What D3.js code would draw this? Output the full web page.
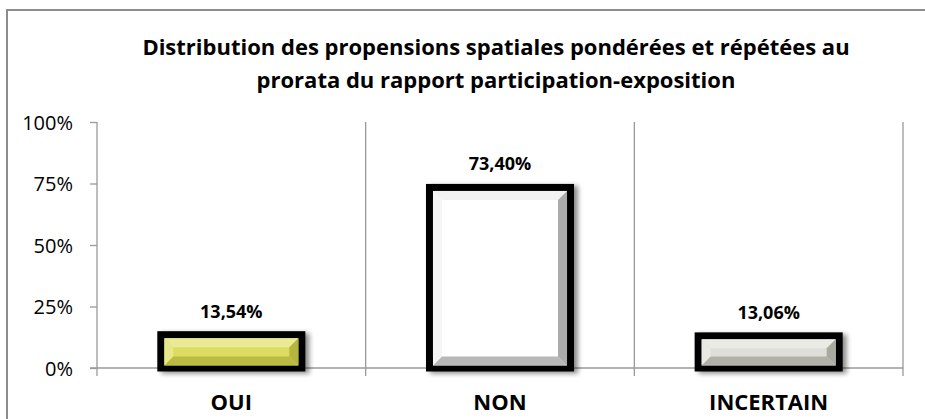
<!DOCTYPE html>
<html>
<head>
<meta charset="utf-8">
<script src="https://cdn.jsdelivr.net/npm/d3@7"></script>
<style>
  html, body { margin: 0; padding: 0; background: #fff; }
  svg { display: block; }
  text { font-family: "Open Sans", "Noto Sans", sans-serif; fill: #000; }
</style>
</head>
<body>
<svg id="chart" width="925" height="419"></svg>
<script>
// Data
const categories = ["OUI", "NON", "INCERTAIN"];
const values = [13.54, 73.40, 13.06];
const valueLabels = ["13,54%", "73,40%", "13,06%"];
const yTicks = [0, 25, 50, 75, 100];
const yTickLabels = ["0%", "25%", "50%", "75%", "100%"];
const titleLines = [
  "Distribution des propensions spatiales pondérées et répétées au",
  "prorata du rapport participation-exposition"
];

// Bar palettes: [face, light bevel, dark bevel]
const palettes = [
  ["#dcdc62", "#e9e996", "#b5b53e"],
  ["#ffffff", "#f2f2f2", "#ababab"],
  ["#dedfd8", "#ebebe5", "#a9a99f"]
];

const width = 925, height = 419;
const margin = { top: 122, right: 22, bottom: 51, left: 97 };
const svg = d3.select("#chart");

// Drop shadow for the bars
const defs = svg.append("defs");
const f = defs.append("filter").attr("id", "shadow")
  .attr("x", "-10%").attr("y", "-10%").attr("width", "130%").attr("height", "130%");
f.append("feDropShadow").attr("dx", 4).attr("dy", 2).attr("stdDeviation", 2.5)
  .attr("flood-color", "#000").attr("flood-opacity", 0.45);

// Chart frame
svg.append("rect")
  .attr("x", 7).attr("y", 10).attr("width", 940).attr("height", 430)
  .attr("fill", "none").attr("stroke", "#8c8c8c").attr("stroke-width", 2);

// Title
const title = svg.append("text")
  .attr("text-anchor", "middle")
  .attr("font-weight", "bold")
  .attr("font-size", 22);
titleLines.forEach((t, i) => {
  title.append("tspan").attr("x", 496).attr("y", 55 + i * 33).text(t);
});

const x = d3.scaleBand()
  .domain(categories)
  .range([margin.left, width - margin.right])
  .paddingInner(0.475)
  .paddingOuter(0.2375);

const y = d3.scaleLinear()
  .domain([0, 100])
  .range([height - margin.bottom, margin.top]);

const gridColor = "#9a9a9a";
const step = x.step();
const plotLeft = margin.left, plotRight = width - margin.right;

// Vertical category separators (with tick extension below the axis)
const seps = d3.range(1, categories.length + 1).map(i => plotLeft + i * step);
svg.append("g").selectAll("line").data(seps).join("line")
  .attr("x1", d => d).attr("x2", d => d)
  .attr("y1", y(100)).attr("y2", y(0) + 8)
  .attr("stroke", gridColor).attr("stroke-width", 1.3);

// Y axis
const yAxis = d3.axisLeft(y)
  .tickValues(yTicks)
  .tickFormat((d, i) => yTickLabels[i])
  .tickSize(7)
  .tickPadding(17);
const gy = svg.append("g")
  .attr("transform", `translate(${plotLeft},0)`)
  .call(yAxis);
gy.select(".domain").remove();
gy.selectAll(".tick line").attr("stroke", gridColor).attr("stroke-width", 1.3);
gy.selectAll(".tick text")
  .attr("font-family", "'Open Sans', sans-serif")
  .attr("font-size", 20).attr("fill", "#000")
  .attr("dy", "0.36em");
svg.append("line")
  .attr("x1", plotLeft).attr("x2", plotLeft)
  .attr("y1", y(100)).attr("y2", y(0) + 8)
  .attr("stroke", gridColor).attr("stroke-width", 1.3);

// Baseline
svg.append("line")
  .attr("x1", plotLeft - 7).attr("x2", plotRight)
  .attr("y1", y(0)).attr("y2", y(0))
  .attr("stroke", gridColor).attr("stroke-width", 1.3);

// Bars with bevel
const border = 7;
const bars = svg.append("g").selectAll("g").data(categories).join("g");
bars.each(function (c, i) {
  const g = d3.select(this);
  const x0 = x(c), x1 = x(c) + x.bandwidth();
  const yTop = y(values[i]), yBot = y(0);
  const [face, light, dark] = palettes[i];

  // Outer black frame with shadow
  g.append("rect")
    .attr("x", x0 - border / 2).attr("y", yTop - border / 2)
    .attr("width", x1 - x0 + border).attr("height", yBot - yTop + border)
    .attr("fill", "#000")
    .attr("filter", "url(#shadow)");

  // Inner face
  const ix0 = x0 + border / 2, ix1 = x1 - border / 2;
  const iy0 = yTop + border / 2, iy1 = yBot - border / 2 + 1;
  g.append("rect")
    .attr("x", ix0).attr("y", iy0)
    .attr("width", ix1 - ix0).attr("height", iy1 - iy0)
    .attr("fill", face);

  // Bevel edges
  const b = Math.min(9, (iy1 - iy0) / 2 - 1, (ix1 - ix0) / 2);
  const poly = pts => pts.map(p => p.join(",")).join(" ");
  const edges = [
    { pts: [[ix0, iy0], [ix1, iy0], [ix1 - b, iy0 + b], [ix0 + b, iy0 + b]], fill: light },
    { pts: [[ix0, iy0], [ix0 + b, iy0 + b], [ix0 + b, iy1 - b], [ix0, iy1]], fill: light, op: 0.8 },
    { pts: [[ix1, iy0], [ix1, iy1], [ix1 - b, iy1 - b], [ix1 - b, iy0 + b]], fill: dark },
    { pts: [[ix0, iy1], [ix0 + b, iy1 - b], [ix1 - b, iy1 - b], [ix1, iy1]], fill: dark, op: 0.85 }
  ];
  edges.forEach(e => {
    g.append("polygon").attr("points", poly(e.pts))
      .attr("fill", e.fill).attr("opacity", e.op || 1);
  });
});

// Value labels
svg.append("g").selectAll("text").data(categories).join("text")
  .attr("x", d => x(d) + x.bandwidth() / 2)
  .attr("y", (d, i) => y(values[i]) - 17)
  .attr("text-anchor", "middle")
  .attr("font-weight", "bold")
  .attr("font-size", 18)
  .text((d, i) => valueLabels[i]);

// Category labels
svg.append("g").selectAll("text").data(categories).join("text")
  .attr("x", d => x(d) + x.bandwidth() / 2)
  .attr("y", y(0) + 42)
  .attr("text-anchor", "middle")
  .attr("font-weight", "bold")
  .attr("font-size", 22)
  .text(d => d);
</script>
</body>
</html>
